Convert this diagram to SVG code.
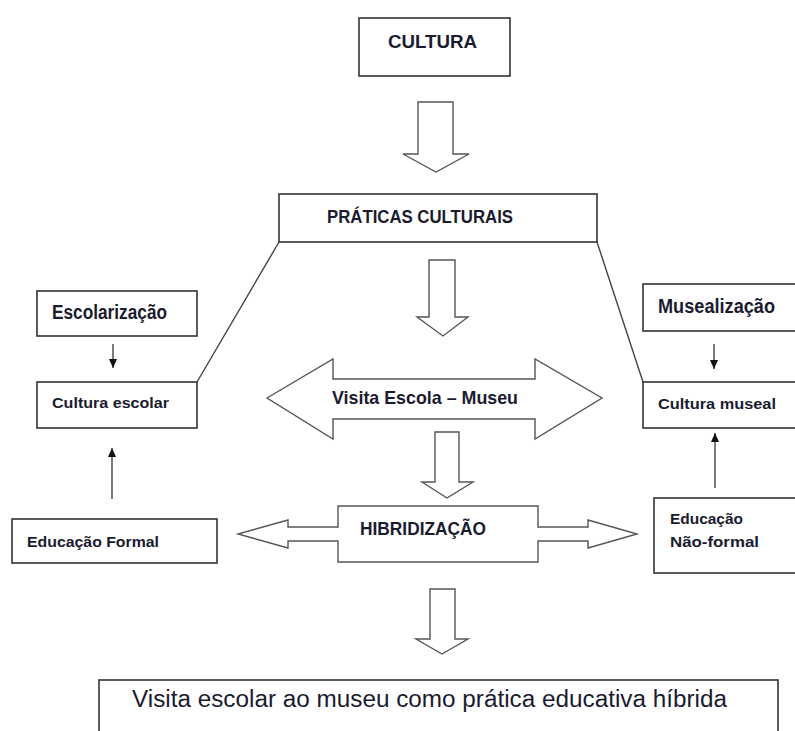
<svg xmlns="http://www.w3.org/2000/svg" width="795" height="731" viewBox="0 0 795 731">
<defs>
<style>
.box{fill:#fff;stroke:#333;stroke-width:1.6}
.blk{fill:#fff;stroke:#555;stroke-width:1.4;stroke-linejoin:miter}
.ln{stroke:#444;stroke-width:1.4;fill:none}
.t{font-family:"Liberation Sans",Arial,sans-serif;fill:#1b1b30;font-weight:bold}
.r{font-weight:normal}
</style>
<marker id="ah" markerUnits="userSpaceOnUse" markerWidth="10" markerHeight="10" refX="9" refY="5" orient="auto">
<path d="M0,1 L9,5 L0,9 Z" fill="#111"/>
</marker>
</defs>
<rect width="795" height="731" fill="#fff"/>

<g id="connectors">
<line class="ln" x1="279" y1="242" x2="197" y2="382"/>
<line class="ln" x1="597" y1="242" x2="643" y2="382"/>
<line class="ln" x1="113" y1="344" x2="113" y2="368" marker-end="url(#ah)"/>
<line class="ln" x1="714" y1="344" x2="714" y2="369" marker-end="url(#ah)"/>
<line class="ln" x1="112" y1="499" x2="112" y2="448" marker-end="url(#ah)"/>
<line class="ln" x1="715" y1="488" x2="715" y2="433" marker-end="url(#ah)"/>
<polygon class="blk" points="418,102 453,102 453,154 469,154 436,172 403,154 418,154"/>
<polygon class="blk" points="429,260 455,260 455,317 468,317 443,336 417,317 429,317"/>
<polygon class="blk" points="435,432 459,432 459,482 473,482 447,498 422,482 435,482"/>
<polygon class="blk" points="430,589 455,589 455,639 468,639 442,654 416,639 430,639"/>
</g>

<g id="cultura">
<rect class="box" x="359" y="18" width="151" height="58"/>
<text class="t" x="388" y="48" font-size="19" textLength="89" lengthAdjust="spacingAndGlyphs">CULTURA</text>
</g>

<g id="praticas">
<rect class="box" x="279" y="194" width="318" height="48"/>
<text class="t" x="327" y="223" font-size="19" textLength="186" lengthAdjust="spacingAndGlyphs">PRÁTICAS CULTURAIS</text>
</g>

<g id="escolarizacao">
<rect class="box" x="37" y="291" width="160" height="45"/>
<text class="t" x="52" y="319" font-size="19.5" textLength="115" lengthAdjust="spacingAndGlyphs">Escolarização</text>
</g>

<g id="cultura-escolar">
<rect class="box" x="37" y="382" width="160" height="46"/>
<text class="t" x="52" y="408" font-size="15.5" textLength="117" lengthAdjust="spacingAndGlyphs">Cultura escolar</text>
</g>

<g id="musealizacao">
<rect class="box" x="643" y="284" width="160" height="47"/>
<text class="t" x="658" y="313" font-size="19.5" textLength="117" lengthAdjust="spacingAndGlyphs">Musealização</text>
</g>

<g id="cultura-museal">
<rect class="box" x="643" y="382" width="160" height="46"/>
<text class="t" x="658" y="409" font-size="15.5" textLength="118" lengthAdjust="spacingAndGlyphs">Cultura museal</text>
</g>

<g id="visita">
<polygon class="blk" points="267,398 333,359 333,379 535,379 535,359 602,398 535,439 535,419 333,419 333,439"/>
<text class="t" x="332" y="404" font-size="18.5" textLength="186" lengthAdjust="spacingAndGlyphs">Visita Escola – Museu</text>
</g>

<g id="hibridizacao">
<polygon class="blk" points="338,506 538,506 538,527 588,527 588,520 637,534 588,548 588,541 538,541 538,562 338,562 338,541 288,541 288,548 238,534 288,520 288,527 338,527"/>
<text class="t" x="360" y="535" font-size="19" textLength="126" lengthAdjust="spacingAndGlyphs">HIBRIDIZAÇÃO</text>
</g>

<g id="educacao-formal">
<rect class="box" x="12" y="519" width="205" height="44"/>
<text class="t" x="27" y="547" font-size="15.5" textLength="132" lengthAdjust="spacingAndGlyphs">Educação Formal</text>
</g>

<g id="educacao-nao-formal">
<rect class="box" x="654" y="498" width="150" height="75"/>
<text class="t" x="670" y="524" font-size="15.5" textLength="73" lengthAdjust="spacingAndGlyphs">Educação</text>
<text class="t" x="670" y="547" font-size="15.5" textLength="89" lengthAdjust="spacingAndGlyphs">Não-formal</text>
</g>

<g id="resultado">
<rect class="box" x="99" y="680" width="679" height="70"/>
<text class="t r" x="132" y="707" font-size="23" textLength="595" lengthAdjust="spacingAndGlyphs">Visita escolar ao museu como prática educativa híbrida</text>
</g>
</svg>
